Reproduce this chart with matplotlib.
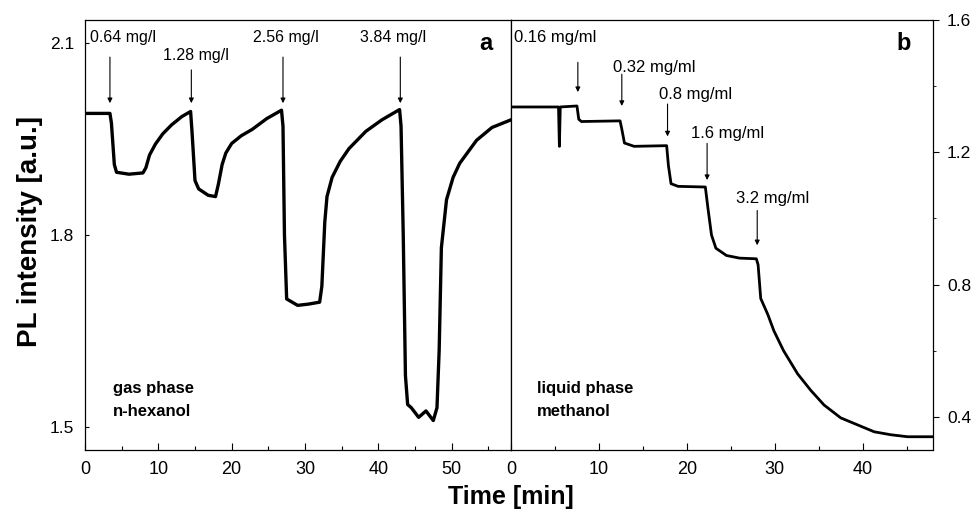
import matplotlib.pyplot as plt
from matplotlib.ticker import MultipleLocator

# panel a: gas phase, n-hexanol (left axis)
gasTime = [0, 3.4, 3.6, 4.0, 4.3, 6.0, 7.9, 8.3, 8.8, 9.6, 10.6, 11.8, 13.2, 14.4,
           14.6, 15.0, 15.5, 16.8, 17.8, 18.2, 18.7, 19.2, 20.0, 21.3, 22.8, 24.8, 26.8,
           27.0, 27.2, 27.5, 29.0, 30.5, 32.0, 32.3, 32.7, 33.0, 33.7, 34.8, 36.0, 38.3, 40.5, 42.9,
           43.1, 43.4, 43.7, 44.0, 44.5, 45.5, 46.5, 47.5, 48.0, 48.3, 48.6, 49.3, 50.2, 51.1,
           53.4, 55.5, 58.1]
gasPL = [1.990, 1.990, 1.975, 1.910, 1.898, 1.895, 1.897, 1.905, 1.925, 1.942, 1.958, 1.972, 1.985, 1.993,
         1.960, 1.885, 1.872, 1.862, 1.860, 1.880, 1.910, 1.928, 1.943, 1.955, 1.965, 1.982, 1.995,
         1.970, 1.800, 1.700, 1.690, 1.692, 1.695, 1.720, 1.820, 1.860, 1.890, 1.915, 1.935, 1.962, 1.980, 1.996,
         1.970, 1.800, 1.580, 1.535, 1.530, 1.515, 1.525, 1.510, 1.530, 1.620, 1.780, 1.855, 1.890, 1.912,
         1.948, 1.968, 1.980]
gasDoseTime = [3.4, 14.5, 27.0, 43.0]
gasDoseLabel = ['0.64 mg/l', '1.28 mg/l', '2.56 mg/l', '3.84 mg/l']

# panel b: liquid phase, methanol (right axis)
liqTime = [0, 5.4, 5.5, 5.6, 7.5, 7.7, 8.0, 12.4, 12.6, 12.9, 14.0, 17.7, 17.9, 18.2, 19.0,
           22.1, 22.4, 22.8, 23.3, 24.5, 26.0, 27.9, 28.1, 28.4, 29.2, 29.9, 31.0, 32.6, 34.1,
           35.6, 37.5, 39.4, 41.3, 43.2, 45.1, 48.0]
liqPL = [1.337, 1.337, 1.218, 1.337, 1.340, 1.300, 1.293, 1.295, 1.270, 1.228, 1.218, 1.220, 1.160, 1.105, 1.097,
         1.095, 1.030, 0.950, 0.910, 0.888, 0.880, 0.878, 0.860, 0.758, 0.710, 0.660, 0.600, 0.530, 0.480,
         0.436, 0.397, 0.376, 0.355, 0.346, 0.340, 0.340]
liqDoseTime = [7.6, 12.6, 17.8, 22.3, 28.0]
liqDoseLabel = ['0.16 mg/ml', '0.32 mg/ml', '0.8 mg/ml', '1.6 mg/ml', '3.2 mg/ml']

# label / arrow placement (layout only)
gasTextPos = [(0.7, 2.108), (10.7, 2.081), (22.9, 2.108), (37.5, 2.108)]
gasArrowY = [(2.078, 2.006), (2.058, 2.006), (2.078, 2.006), (2.078, 2.006)]
liqTextPos = [(0.3, 1.546), (11.6, 1.457), (16.8, 1.376), (20.5, 1.257), (25.6, 1.060)]
liqArrowY = [(1.472, 1.382), (1.436, 1.340), (1.346, 1.248), (1.227, 1.116), (1.024, 0.919)]

tickFont = ['Liberation Sans Narrow', 'Liberation Sans', 'DejaVu Sans']
plt.rcParams['font.family'] = ['Liberation Sans', 'DejaVu Sans']

fig = plt.figure(figsize=(9.76, 5.19), dpi=100)
axA = fig.add_axes([0.0871, 0.133, 0.4365, 0.8285])
axB = fig.add_axes([0.5236, 0.133, 0.4324, 0.8285])

axA.plot(gasTime, gasPL, color='black', lw=2.4, solid_joinstyle='round')
axB.plot(liqTime, liqPL, color='black', lw=2.0, solid_joinstyle='round')

axA.set_xlim(0, 58.1)
axA.set_ylim(1.464, 2.136)
axB.set_xlim(0, 48)
axB.set_ylim(0.30, 1.60)

for ax in (axA, axB):
    ax.xaxis.set_major_locator(MultipleLocator(10))
    ax.xaxis.set_minor_locator(MultipleLocator(5))
    ax.tick_params(axis='x', which='major', direction='in', length=5, width=0.8, labelsize=13, pad=8)
    ax.tick_params(axis='x', which='minor', direction='in', length=3, width=0.8)
    for lab in ax.get_xticklabels():
        lab.set_family(tickFont)
    ax.spines['top'].set_linestyle((0, (1, 1)))
    ax.spines['bottom'].set_linestyle((0, (1, 1)))
    for s in ax.spines.values():
        s.set_linewidth(0.9)

axA.yaxis.set_major_locator(MultipleLocator(0.3))
axA.tick_params(axis='y', direction='in', length=3, labelsize=12.5, pad=8)
axB.yaxis.tick_right()
axB.yaxis.set_major_locator(MultipleLocator(0.4))
axB.yaxis.set_minor_locator(MultipleLocator(0.2))
axB.tick_params(axis='y', which='major', direction='out', length=4, labelsize=12.5, pad=6)
axB.tick_params(axis='y', which='minor', direction='out', length=2)
axB.set_xticks([0, 10, 20, 30, 40])

arrowStyle = dict(arrowstyle='-|>', color='black', lw=0.8, mutation_scale=7, shrinkA=0, shrinkB=0)
for t, lab, pos, ay in zip(gasDoseTime, gasDoseLabel, gasTextPos, gasArrowY):
    axA.text(pos[0], pos[1], lab, fontsize=11.5, ha='left', va='center')
    axA.annotate('', xy=(t, ay[1]), xytext=(t, ay[0]), arrowprops=arrowStyle)
for t, lab, pos, ay in zip(liqDoseTime, liqDoseLabel, liqTextPos, liqArrowY):
    axB.text(pos[0], pos[1], lab, fontsize=12, ha='left', va='center')
    axB.annotate('', xy=(t, ay[1]), xytext=(t, ay[0]), arrowprops=arrowStyle)

axA.text(0.94, 0.945, 'a', transform=axA.transAxes, fontsize=17, fontweight='bold', ha='center', va='center')
axB.text(0.93, 0.945, 'b', transform=axB.transAxes, fontsize=17, fontweight='bold', ha='center', va='center')
axA.text(0.066, 0.116, 'gas phase\nn-hexanol', transform=axA.transAxes, fontsize=12, fontweight='bold',
         ha='left', va='center', linespacing=1.6)
axB.text(0.062, 0.116, 'liquid phase\nmethanol', transform=axB.transAxes, fontsize=12, fontweight='bold',
         ha='left', va='center', linespacing=1.6)

fig.text(0.031, 0.553, 'PL intensity [a.u.]', rotation=90, fontsize=20, fontweight='bold', ha='center', va='center')
fig.text(0.523, 0.042, 'Time [min]', fontsize=18, fontweight='bold', ha='center', va='center', family=tickFont)

plt.savefig('out.png', dpi=100)
